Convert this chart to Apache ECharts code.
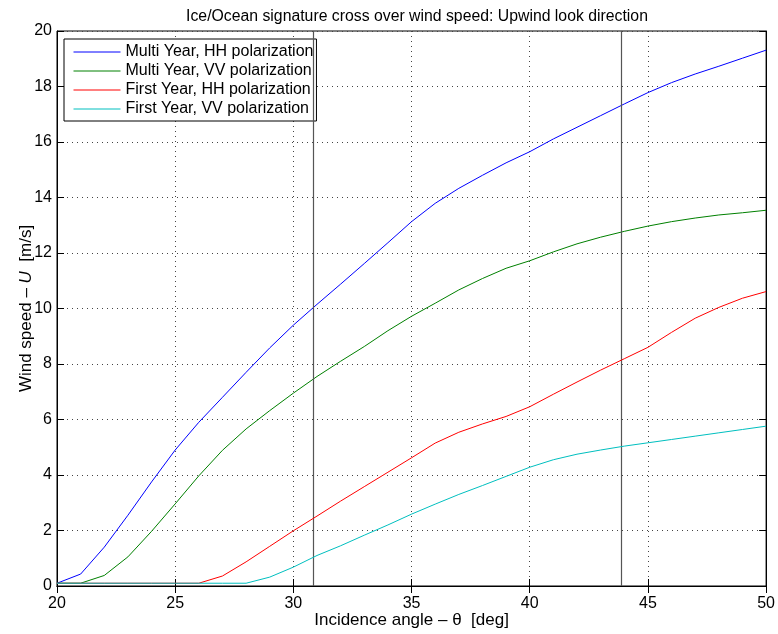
<!DOCTYPE html>
<html>
<head>
<meta charset="utf-8">
<script src="https://cdn.jsdelivr.net/npm/echarts@6/dist/echarts.min.js"></script>
<style>html,body{margin:0;padding:0;background:#fff}#c{width:778px;height:634px}</style>
</head>
<body>
<div id="c"></div>
<script>
const angles = [20,21,22,23,24,25,26,27,28,29,30,31,32,33,34,35,36,37,38,39,40,41,42,43,44,45,46,47,48,49,50];
const myHH = [0.1,0.43,1.4,2.55,3.75,4.9,5.9,6.8,7.7,8.58,9.4,10.15,10.88,11.62,12.37,13.13,13.79,14.33,14.8,15.25,15.65,16.11,16.53,16.95,17.37,17.78,18.14,18.45,18.73,19.02,19.31];
const myVV = [0.1,0.1,0.38,1.05,1.97,2.96,3.97,4.89,5.66,6.32,6.95,7.55,8.1,8.63,9.2,9.72,10.19,10.67,11.08,11.45,11.72,12.04,12.33,12.57,12.78,12.97,13.13,13.26,13.37,13.45,13.54];
const fyHH = [0.1,0.1,0.1,0.1,0.1,0.1,0.1,0.36,0.87,1.43,1.99,2.52,3.06,3.58,4.1,4.62,5.15,5.54,5.84,6.11,6.46,6.91,7.35,7.78,8.19,8.6,9.14,9.65,10.04,10.37,10.61];
const fyVV = [0.1,0.1,0.1,0.1,0.1,0.1,0.1,0.1,0.1,0.32,0.68,1.1,1.45,1.83,2.2,2.59,2.95,3.3,3.62,3.95,4.28,4.55,4.75,4.9,5.04,5.16,5.28,5.4,5.52,5.64,5.76];
const crossAngles = [30.83, 43.87];
const seriesNames = ['Multi Year, HH polarization','Multi Year, VV polarization','First Year, HH polarization','First Year, VV polarization'];
const seriesColors = ['#0000ff','#008000','#ff0000','#00bfbf'];
const seriesData = [myHH, myVV, fyHH, fyVV];

const font = 'Liberation Sans, Arial, sans-serif';
const chart = echarts.init(document.getElementById('c'));
const series = seriesData.map((d, i) => ({
  name: seriesNames[i],
  type: 'line',
  data: angles.map((a, j) => [a, d[j]]),
  symbol: 'none',
  lineStyle: { color: seriesColors[i], width: 1 },
  itemStyle: { color: seriesColors[i] },
  z: 3 + i,
  animation: false
}));
series[0].markLine = {
  silent: true,
  symbol: 'none',
  label: { show: false },
  lineStyle: { color: '#555', width: 1.2, type: 'solid' },
  data: crossAngles.map(v => ({ xAxis: v })),
  animation: false
};
const gridLine = { show: true, lineStyle: { color: '#444', type: [1, 4], width: 1 } };
chart.setOption({
  animation: false,
  backgroundColor: '#fff',
  title: {
    text: 'Ice/Ocean signature cross over wind speed: Upwind look direction',
    left: 412, top: 4, textAlign: 'center',
    textStyle: { fontFamily: font, fontSize: 15.8, fontWeight: 'normal', color: '#000' }
  },
  legend: {
    orient: 'vertical', left: 64, top: 39,
    backgroundColor: '#fff', borderColor: '#000', borderWidth: 1,
    padding: [5, 3, 4, 9], itemGap: 3, itemWidth: 47, itemHeight: 14, itemTextGap: 6,
    itemStyle: { opacity: 0 },
    lineStyle: { width: 1 },
    textStyle: { fontFamily: font, fontSize: 16, lineHeight: 16, color: '#000' },
    data: seriesNames
  },
  grid: { left: 57, right: 11, top: 31, bottom: 44, show: true, borderColor: '#000', borderWidth: 1, containLabel: false },
  xAxis: [{
    type: 'value', min: 20, max: 50, interval: 5,
    name: 'Incidence angle – θ  [deg]', nameLocation: 'middle', nameGap: 26, nameMoveOverlap: false,
    nameTextStyle: { fontFamily: font, fontSize: 17, color: '#000' },
    axisLine: { show: true, lineStyle: { color: '#000', width: 1 } },
    axisTick: { show: true, inside: true, length: 7, lineStyle: { color: '#000' } },
    axisLabel: { fontFamily: font, fontSize: 16, color: '#000', margin: 10 },
    splitLine: gridLine
  }, {
    type: 'value', min: 20, max: 50, interval: 5, position: 'top',
    axisLine: { show: true, lineStyle: { color: '#000' } },
    axisTick: { show: true, inside: true, length: 7, lineStyle: { color: '#000' } },
    axisLabel: { show: false }, splitLine: { show: false }
  }],
  yAxis: [{
    type: 'value', min: 0, max: 20, interval: 2,
    name: '{n|Wind speed – }{i|U}{n|  [m/s]}', nameLocation: 'middle', nameGap: 22, nameMoveOverlap: false,
    nameTextStyle: { fontFamily: font, fontSize: 17, color: '#000',
      rich: { n: { fontFamily: font, fontSize: 17, color: '#000' }, i: { fontFamily: font, fontSize: 17, color: '#000', fontStyle: 'italic' } } },
    axisLine: { show: true, lineStyle: { color: '#000', width: 1 } },
    axisTick: { show: true, inside: true, length: 7, lineStyle: { color: '#000' } },
    axisLabel: { fontFamily: font, fontSize: 16, color: '#000', margin: 5 },
    splitLine: gridLine
  }, {
    type: 'value', min: 0, max: 20, interval: 2, position: 'right',
    axisLine: { show: true, lineStyle: { color: '#000' } },
    axisTick: { show: true, inside: true, length: 7, lineStyle: { color: '#000' } },
    axisLabel: { show: false }, splitLine: { show: false }
  }],
  series: series
});
</script>
</body>
</html>
